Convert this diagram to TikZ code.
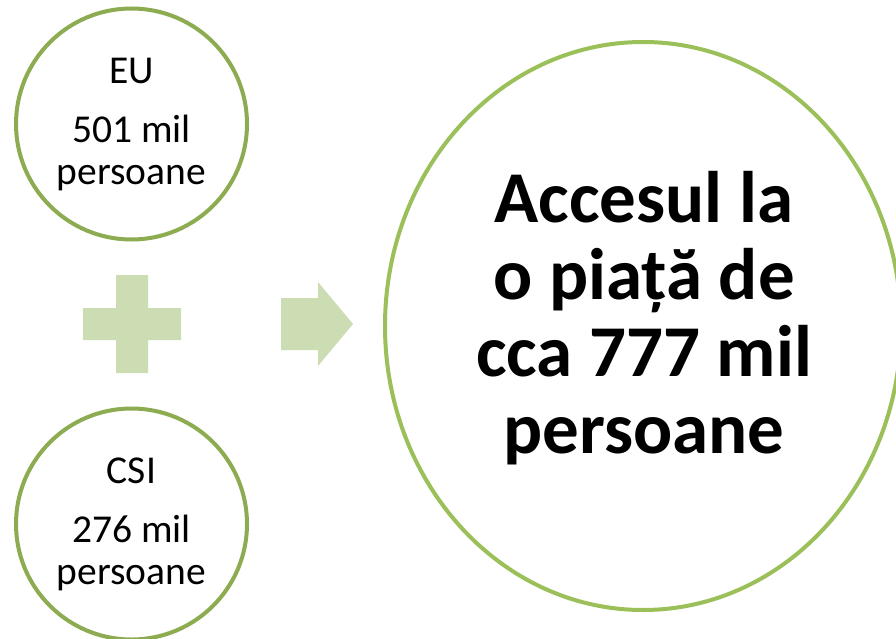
\documentclass[tikz,border=0pt]{standalone}
\usepackage{fontspec}
\setmainfont{Carlito}
\definecolor{ringsmall}{RGB}{141,172,82}
\definecolor{ringbig}{RGB}{155,192,90}
\definecolor{shapefill}{RGB}{205,221,179}
\begin{document}
\begin{tikzpicture}[x=1pt,y=-1pt,
  smallring/.style={circle,draw=ringsmall,line width=4pt,minimum size=231pt,inner sep=0pt},
  smalltxt/.style={anchor=base,font=\fontsize{39.5}{42}\selectfont,inner sep=0pt},
  bigtxt/.style={anchor=base,font=\fontsize{73}{78}\bfseries,inner sep=0pt},
  glyph/.style={fill=shapefill,draw=none}]
\useasboundingbox (0,0) rectangle (896,639);
\fill[white] (0,0) rectangle (896,639);
% circles
\node[smallring] (eu) at (131.5,124) {};
\node[smallring] (csi) at (131.5,524) {};
\draw[ringbig,line width=4pt] (643,326) ellipse [x radius=258, y radius=284];
\coordinate (big) at (643,326);
% texts in small circles
\node[smalltxt] (eu1) at (131.5,84) {EU};
\node[smalltxt] (eu2) at (131.5,143) {501 mil};
\node[smalltxt] (eu3) at (131.5,185) {persoane};
\node[smalltxt] (csi1) at (131.5,483) {CSI};
\node[smalltxt] (csi2) at (131.5,542) {276 mil};
\node[smalltxt] (csi3) at (131.5,584) {persoane};
% big text
\node[bigtxt] (b1) at (644,222) {Accesul la};
\node[bigtxt] (b2) at (644,299) {o piață de};
\node[bigtxt] (b3) at (644,376) {cca 777 mil};
\node[bigtxt] (b4) at (644,453) {persoane};
% plus
\path[glyph] (116,275) -- (148,275) -- (148,308) -- (181,308) -- (181,340) -- (148,340)
  -- (148,373) -- (116,373) -- (116,340) -- (83,340) -- (83,308) -- (116,308) -- cycle;
% arrow
\path[glyph] (281,298) -- (318,298) -- (318,282) -- (353,324) -- (318,366) -- (318,350)
  -- (281,350) -- cycle;
\end{tikzpicture}
\end{document}
